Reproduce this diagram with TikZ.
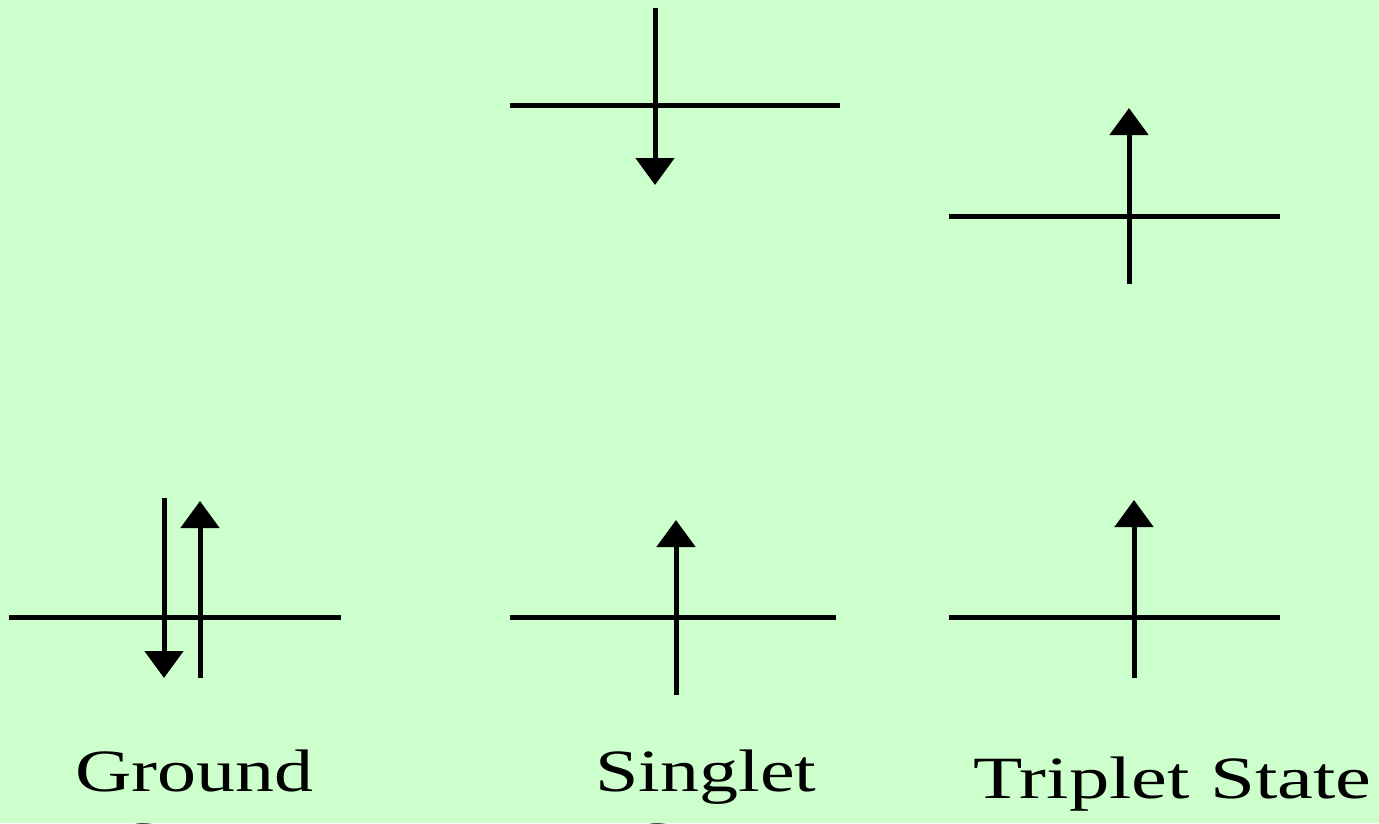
\documentclass[tikz,border=0pt]{standalone}
\usepackage{fontspec}
\setmainfont{Liberation Serif}
\usetikzlibrary{arrows.meta}
\definecolor{bggreen}{RGB}{204,255,204}
\tikzset{
  level/.style={line width=5pt},
  spin/.style={line width=5pt,-{Triangle[width=38pt,length=27pt]}},
  label/.style={font=\fontsize{60}{66}\selectfont, xscale=1.3, transform shape, inner sep=0pt, anchor=base west}
}
\begin{document}
\begin{tikzpicture}[x=1pt,y=-1pt]
\useasboundingbox (0,0) rectangle (1379,823);
\fill[bggreen] (0,0) rectangle (1379,823);
\clip (0,0) rectangle (1379,823);
% top middle (singlet excited)
\coordinate (sL) at (510,105); \coordinate (sR) at (840,105);
\coordinate (sA) at (655,8); \coordinate (sB) at (655,185);
\draw[level] (sL) -- (sR);
\draw[spin] (sA) -- (sB);
% top right (triplet excited)
\coordinate (tL) at (949,216); \coordinate (tR) at (1280,216);
\coordinate (tA) at (1129,284); \coordinate (tB) at (1129,108);
\draw[level] (tL) -- (tR);
\draw[spin] (tA) -- (tB);
% bottom left (ground)
\coordinate (gL) at (9,617); \coordinate (gR) at (341,617);
\coordinate (gA) at (164,498); \coordinate (gB) at (164,678);
\coordinate (gC) at (200,678); \coordinate (gD) at (200,501);
\draw[level] (gL) -- (gR);
\draw[spin] (gA) -- (gB);
\draw[spin] (gC) -- (gD);
% bottom middle (singlet)
\coordinate (mL) at (510,617); \coordinate (mR) at (836,617);
\coordinate (mA) at (676,695); \coordinate (mB) at (676,520);
\draw[level] (mL) -- (mR);
\draw[spin] (mA) -- (mB);
% bottom right (triplet)
\coordinate (rL) at (949,617); \coordinate (rR) at (1280,617);
\coordinate (rA) at (1134,678); \coordinate (rB) at (1134,500);
\draw[level] (rL) -- (rR);
\draw[spin] (rA) -- (rB);
% labels
\node[label] (ground) at (75,791) {Ground};
\node[label] (groundS) at (120,863) {State};
\node[label] (singlet) at (595,791) {Singlet};
\node[label] (singletS) at (634,863) {State};
\node[label, xscale=1.035] (triplet) at (973,798) {Triplet State};
\end{tikzpicture}
\end{document}
